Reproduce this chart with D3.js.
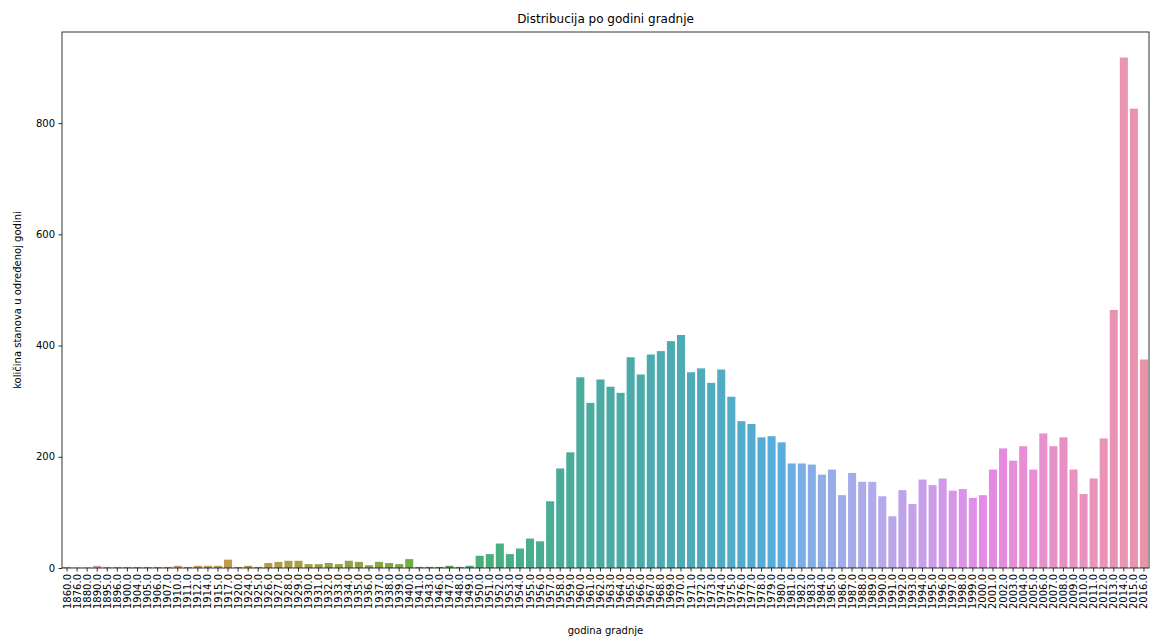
<!DOCTYPE html>
<html>
<head>
<meta charset="utf-8">
<script src="https://cdn.jsdelivr.net/npm/d3@7"></script>
<style>
  html, body { margin: 0; padding: 0; background: #fff; }
  svg { display: block; font-family: "DejaVu Sans", sans-serif; }
</style>
</head>
<body>
<svg id="chart" width="1150" height="637"></svg>
<script>
const years = [1860,1876,1880,1890,1895,1896,1900,1904,1905,1906,1907,1910,1911,1912,1914,1915,1917,1920,1924,1925,
  1926,1927,1928,1929,1930,1931,1932,1933,1934,1935,1936,1937,1938,1939,1940,1941,1943,1946,1947,1948,1949,
  1950,1951,1952,1953,1954,1955,1956,1957,1958,1959,1960,1961,1962,1963,1964,1965,1966,1967,1968,1969,
  1970,1971,1972,1973,1974,1975,1976,1977,1978,1979,1980,1981,1982,1983,1984,1985,1986,1987,1988,1989,
  1990,1991,1992,1993,1994,1995,1996,1997,1998,1999,2000,2001,2002,2003,2004,2005,2006,2007,2008,2009,
  2010,2011,2012,2013,2014,2015,2016];
const counts = [2,1,1,4,2,2,2,2,2,2,2,4,2,4,4,4,15,2,4,2,
  9,11,13,13,7,7,9,7,13,11,5,11,9,7,16,2,2,2,4,2,4,
  22,25,44,25,35,53,48,120,179,208,343,297,339,326,315,379,348,384,390,408,
  419,352,359,333,357,308,264,259,235,237,226,188,188,186,168,177,131,171,155,155,
  129,93,140,115,159,149,161,139,142,126,131,177,215,193,219,177,242,219,235,177,
  133,161,233,464,918,826,375];
const yTicks = [0,200,400,600,800];
const title = "Distribucija po godini gradnje";
const xLabel = "godina gradnje";
const yLabel = "količina stanova u određenoj godini";

// --- HUSL (seaborn) colour palette ---
const M = [[3.2406,-1.5372,-0.4986],[-0.9689,1.8758,0.0415],[0.0557,-0.2040,1.0570]];
const refU = 0.19784, refV = 0.46834, labE = 0.008856, labK = 903.3;
function maxChroma(L, H) {
  const hr = H / 360 * Math.PI * 2, sinH = Math.sin(hr), cosH = Math.cos(hr);
  const sub1 = Math.pow(L + 16, 3) / 1560896;
  const sub2 = sub1 > labE ? sub1 : L / labK;
  let result = Infinity;
  for (const [m1, m2, m3] of M) {
    const top = (0.99915 * m1 + 1.05122 * m2 + 1.14460 * m3) * sub2;
    const rb = 0.86330 * m3 - 0.17266 * m2;
    const lb = 0.12949 * m3 - 0.38848 * m1;
    const bottom = (rb * sinH + lb * cosH) * sub2;
    for (const t of [0, 1]) {
      const C = L * (top - 1.05122 * t) / (bottom + 0.17266 * sinH * t);
      if (C > 0 && C < result) result = C;
    }
  }
  return result;
}
function fInv(t) { return Math.pow(t, 3) > labE ? Math.pow(t, 3) : (116 * t - 16) / labK; }
function fromLinear(c) { return c <= 0.0031308 ? 12.92 * c : 1.055 * Math.pow(c, 1 / 2.4) - 0.055; }
function huslToRgb(H, S, L) {
  const C = maxChroma(L, H) / 100 * S;
  const hr = H / 360 * Math.PI * 2;
  const U = Math.cos(hr) * C, V = Math.sin(hr) * C;
  const varY = fInv((L + 16) / 116);
  const varU = U / (13 * L) + refU;
  const varV = V / (13 * L) + refV;
  const Y = varY;
  const X = 0 - (9 * Y * varU) / ((varU - 4) * varV - varU * varV);
  const Z = (9 * Y - 15 * varV * Y - varV * X) / (3 * varV);
  return M.map(r => Math.min(1, Math.max(0, fromLinear(r[0] * X + r[1] * Y + r[2] * Z))));
}
function huslPalette(n, h = 0.01, s = 0.9, l = 0.7) {
  const out = [];
  for (let i = 0; i < n; i++) {
    const hue = ((i / n + h) % 1) * 359;
    const rgb = huslToRgb(hue, s * 99, l * 99);
    const c = d3.hsl(d3.rgb(rgb[0] * 255, rgb[1] * 255, rgb[2] * 255));
    c.s *= 0.75; // seaborn desaturation
    out.push(c.formatRgb());
  }
  return out;
}
const palette = huslPalette(years.length);

// --- layout ---
const svg = d3.select("#chart");
const margin = { left: 62, right: 1, top: 32, bottom: 69 };
const W = 1150, H = 637;
const x0 = margin.left, x1 = W - margin.right, y0 = margin.top, y1 = H - margin.bottom;

const labels = years.map(y => y.toFixed(1));
const x = d3.scaleBand().domain(labels).range([x0, x1]).paddingInner(0.2).paddingOuter(0.1);
const y = d3.scaleLinear().domain([0, d3.max(counts) * 1.05]).range([y1, y0]);

svg.append("g").selectAll("rect").data(counts).join("rect")
  .attr("x", (d, i) => x(labels[i]))
  .attr("width", x.bandwidth())
  .attr("y", d => y(d))
  .attr("height", d => y(0) - y(d))
  .attr("fill", (d, i) => palette[i]);

// axes
const xAxis = svg.append("g").attr("transform", `translate(0,${y1})`)
  .call(d3.axisBottom(x).tickSize(3.5).tickPadding(2));
xAxis.select(".domain").remove();
xAxis.selectAll("line").attr("stroke", "#000").attr("stroke-width", 0.8);
xAxis.selectAll("text")
  .attr("transform", "rotate(-90)")
  .attr("x", -6).attr("y", 0).attr("dy", "0.35em")
  .style("text-anchor", "end")
  .attr("font-size", 10).attr("fill", "#000").attr("font-family", "DejaVu Sans");

const yAxis = svg.append("g").attr("transform", `translate(${x0},0)`)
  .call(d3.axisLeft(y).tickValues(yTicks).tickSize(3.5).tickPadding(3.5).tickFormat(d3.format("d")));
yAxis.select(".domain").remove();
yAxis.selectAll("line").attr("stroke", "#000").attr("stroke-width", 0.8);
yAxis.selectAll("text").attr("font-size", 10).attr("fill", "#000").attr("font-family", "DejaVu Sans");

// spines
svg.append("rect").attr("x", x0).attr("y", y0).attr("width", x1 - x0).attr("height", y1 - y0)
  .attr("fill", "none").attr("stroke", "#000").attr("stroke-width", 0.8);

// texts
svg.append("text").attr("x", (x0 + x1) / 2).attr("y", 23).attr("text-anchor", "middle")
  .attr("font-size", 12).attr("fill", "#000").text(title);
svg.append("text").attr("x", (x0 + x1) / 2).attr("y", 634).attr("text-anchor", "middle")
  .attr("font-size", 10).attr("fill", "#000").text(xLabel);
svg.append("text").attr("transform", `translate(21,${(y0 + y1) / 2}) rotate(-90)`)
  .attr("text-anchor", "middle").attr("font-size", 10).attr("fill", "#000").text(yLabel);
</script>
</body>
</html>
